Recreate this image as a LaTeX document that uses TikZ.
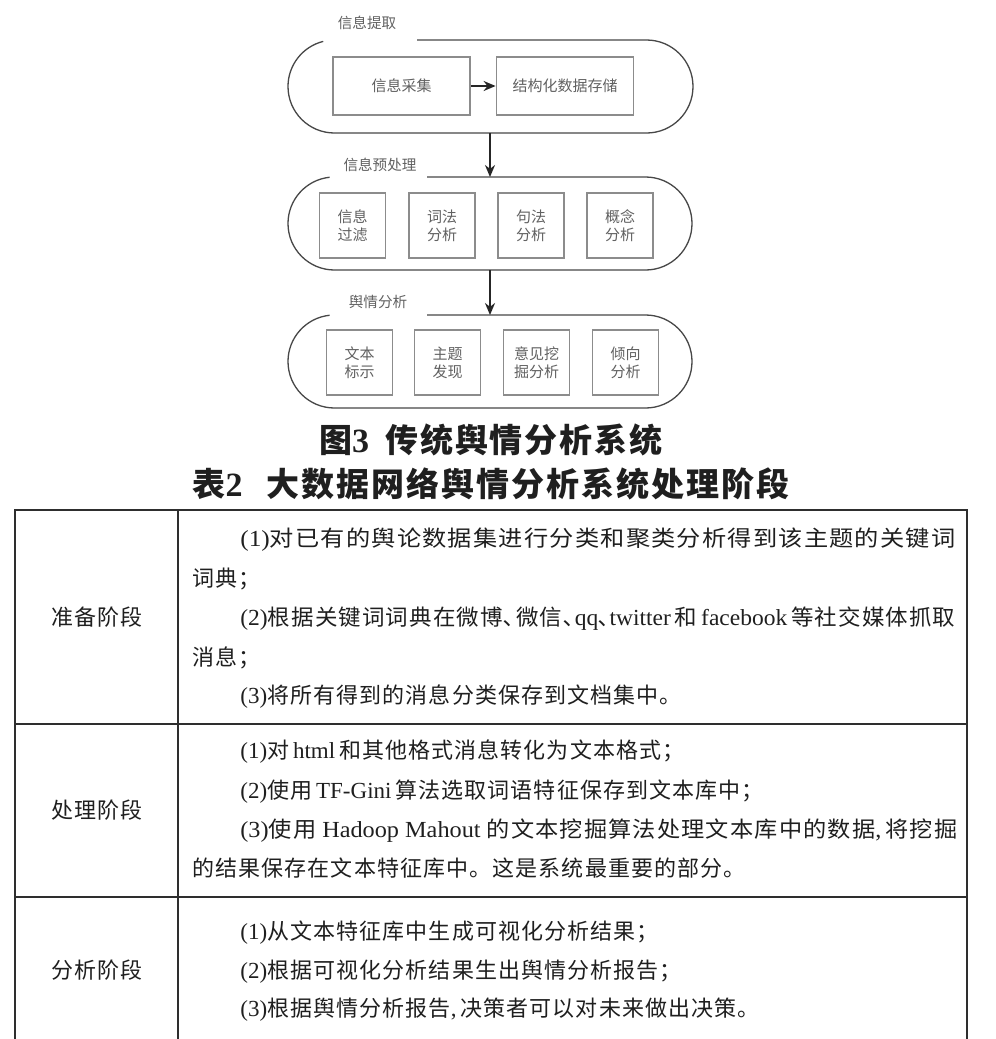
\documentclass[tikz,border=0pt]{standalone}
\usepackage{fontspec}
\usepackage{graphicx}
\usetikzlibrary{arrows.meta}
\setmainfont{Noto Sans CJK SC}
\newfontfamily\latf{Liberation Serif}
\newfontfamily\cjkt{Noto Sans CJK SC}[LetterSpace=5]
\newfontfamily\capf{Noto Sans CJK SC}[LetterSpace=6]
\newcommand\Lat[1]{{\latf\fontsize{11.5pt}{13pt}\selectfont #1}}
\newcommand\LatB[1]{{\latf\bfseries\fontsize{17pt}{19pt}\selectfont #1}}
\newcommand\fitw[2]{\resizebox{#1}{\height}{#2}}
\tikzset{
  pill/.style={draw=black!72, line width=0.65pt},
  stagebox/.style={draw=black!45, line width=0.9pt, align=center, text=black!62,
    font=\fontsize{7.5pt}{9pt}\selectfont, inner sep=0pt},
  boxA/.style={stagebox, minimum width=68.5pt, minimum height=29pt},
  boxB/.style={stagebox, minimum width=33pt, minimum height=32.5pt},
  stagelabel/.style={text=black!62, font=\fontsize{7.3pt}{9pt}\selectfont, inner sep=0pt},
  flow/.style={-{Stealth[length=6pt,width=5pt]}, line width=1.3pt, draw=black!85},
  tline/.style={draw=black!82, line width=0.75pt},
  rowtext/.style={anchor=base west, inner sep=0pt, font=\cjkt\fontsize{11pt}{13pt}\selectfont, text=black!88},
  celllabel/.style={anchor=base, inner sep=0pt, font=\cjkt\fontsize{11pt}{13pt}\selectfont, text=black!88},
  captiontext/.style={inner sep=0pt, font=\capf\fontsize{16.5pt}{19pt}\selectfont\bfseries, text=black!88},
}
\begin{document}
\begin{tikzpicture}[x=0.5pt,y=0.5pt]
\fill[white] (0,0) rectangle (996,-1039);
\useasboundingbox (0,0) rectangle (996,-1039);

% ---- stage 1: 信息提取
\node[stagelabel] (l1) at (367,-23) {信息提取};
\draw[pill] (417,-40) -- (646.5,-40) arc[start angle=90,end angle=-90,radius=46.5]
  -- (334.5,-133) arc[start angle=270,end angle=104,radius=46.5];
\node[boxA] (a1) at (401.5,-86) {信息采集};
\node[boxA] (a2) at (565,-86) {结构化数据存储};
\draw[flow] (a1) -- (a2);
\coordinate (p1s) at (490,-133);

% ---- stage 2: 信息预处理
\node[stagelabel] (l2) at (380,-165) {信息预处理};
\draw[pill] (427,-177) -- (645.5,-177) arc[start angle=90,end angle=-90,radius=46.5]
  -- (334.5,-270) arc[start angle=270,end angle=96,radius=46.5];
\coordinate (p2n) at (490,-177);
\coordinate (p2s) at (490,-270);
\node[boxB] (b1) at (352.5,-225.5) {信息\\过滤};
\node[boxB] (b2) at (442,-225.5) {词法\\分析};
\node[boxB] (b3) at (531,-225.5) {句法\\分析};
\node[boxB] (b4) at (620,-225.5) {概念\\分析};
\draw[flow] (p1s) -- (p2n);

% ---- stage 3: 舆情分析
\node[stagelabel] (l3) at (378,-302) {舆情分析};
\draw[pill] (427,-315) -- (645.5,-315) arc[start angle=90,end angle=-90,radius=46.5]
  -- (334.5,-408) arc[start angle=270,end angle=96,radius=46.5];
\coordinate (p3n) at (490,-315);
\node[boxB] (c1) at (359.5,-362.5) {文本\\标示};
\node[boxB] (c2) at (447.5,-362.5) {主题\\发现};
\node[boxB] (c3) at (536.5,-362.5) {意见挖\\掘分析};
\node[boxB] (c4) at (625.5,-362.5) {倾向\\分析};
\draw[flow] (p2s) -- (p3n);

% ---- captions
\node[captiontext] (cap1) at (491,-440) {图\LatB{3}\hspace{8pt}传统舆情分析系统};
\node[captiontext] (cap2) at (491,-484) {表\LatB{2}\hspace{12pt}大数据网络舆情分析系统处理阶段};

% ---- table
\draw[tline] (15,-1039) -- (15,-510) -- (967,-510) -- (967,-1039);
\draw[tline] (178,-510) -- (178,-1039);
\draw[tline] (15,-724) -- (967,-724);
\draw[tline] (15,-897) -- (967,-897);

\node[celllabel] (h1) at (97,-625) {准备阶段};
\node[celllabel] (h2) at (97,-818) {处理阶段};
\node[celllabel] (h3) at (97,-978) {分析阶段};

\node[rowtext] (r11) at (240,-546) {\fitw{357.5pt}{\Lat{(1)}对已有的舆论数据集进行分类和聚类分析得到该主题的关键词}};
\node[rowtext] (r12) at (192,-586) {词典；};
\node[rowtext] (r13) at (240,-625) {\fitw{357.5pt}{\Lat{(2)}根据关键词词典在微博､微信､\Lat{qq}､\Lat{twitter\,}和\Lat{\,facebook\,}等社交媒体抓取}};
\node[rowtext] (r14) at (192,-665) {消息；};
\node[rowtext] (r15) at (240,-703) {\Lat{(3)}将所有得到的消息分类保存到文档集中。};

\node[rowtext] (r21) at (240,-758) {\Lat{(1)}对\Lat{\,html\,}和其他格式消息转化为文本格式；};
\node[rowtext] (r22) at (240,-798) {\Lat{(2)}使用\Lat{\,TF-Gini\,}算法选取词语特征保存到文本库中；};
\node[rowtext] (r23) at (240,-837) {\fitw{358.5pt}{\Lat{(3)}使用\Lat{\ Hadoop Mahout\ }的文本挖掘算法处理文本库中的数据\Lat{,\,}将挖掘}};
\node[rowtext] (r24) at (192,-876) {的结果保存在文本特征库中。这是系统最重要的部分。};

\node[rowtext] (r31) at (240,-939) {\Lat{(1)}从文本特征库中生成可视化分析结果；};
\node[rowtext] (r32) at (240,-978) {\Lat{(2)}根据可视化分析结果生出舆情分析报告；};
\node[rowtext] (r33) at (240,-1016) {\Lat{(3)}根据舆情分析报告\Lat{,\,}决策者可以对未来做出决策。};
\end{tikzpicture}
\end{document}
